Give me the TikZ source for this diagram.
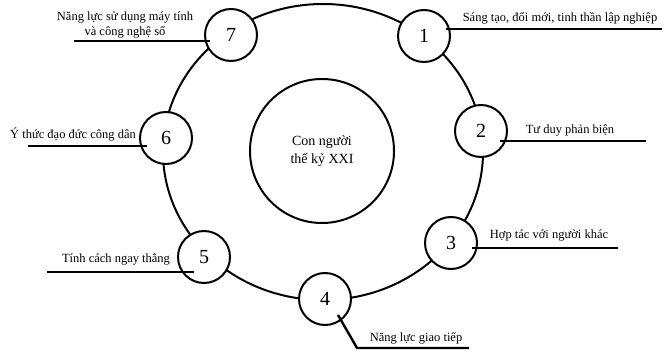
\documentclass[tikz,border=0pt]{standalone}
\usepackage{fontspec}
\setmainfont{Liberation Serif}
\usepackage{tikz}
\usetikzlibrary{positioning}
\tikzset{
  % Numbered bubbles sitting on the ring
  bubble/.style={
    draw, circle, fill=white, minimum size=52pt, inner sep=0pt,
    line width=2pt, font=\fontsize{20}{22}\selectfont,
  },
  % Central circle
  core/.style={
    draw, circle, minimum size=144pt, inner sep=0pt,
    line width=2pt, align=center,
    font=\fontsize{14}{18}\selectfont,
  },
  % Lines
  ring/.style={line width=2pt},
  lead/.style={line width=2.4pt},
  % Labels
  lbl/.style={font=\fontsize{12.5}{15}\selectfont, inner sep=0pt, align=center},
}
\begin{document}
\begin{tikzpicture}[x=1pt, y=-1pt]
    \useasboundingbox (0,0) rectangle (671,355);
    \node[core] (hub) at (322,151) {Con người\\thế kỷ XXI};
    \draw[ring] (323,152) ellipse [x radius=160pt, y radius=148pt];
    % bubbles
    \node[bubble] (c1) at (424,36) {1};
    \node[bubble] (c2) at (481,131) {2};
    \node[bubble] (c3) at (451,243) {3};
    \node[bubble] (c4) at (325,299) {4};
    \node[bubble] (c5) at (204,257) {5};
    \node[bubble] (c6) at (166,138) {6};
    \node[bubble] (c7) at (231,35) {7};
    % free ends of the leaders
    \coordinate (e1) at (662,29);
    \coordinate (e2) at (646,141);
    \coordinate (e3) at (618,248);
    \coordinate (k4) at (357,348);
    \coordinate (e4) at (469,348);
    \coordinate (e5) at (47,272);
    \coordinate (e6) at (28,146);
    \coordinate (e7) at (74,41);
    \draw[lead] ([shift={(22,-7)}]c1.center) -- (e1);
    \draw[lead] ([shift={(19,10)}]c2.center) -- (e2);
    \draw[lead] ([shift={(21,5)}]c3.center) -- (e3);
    \draw[lead] ([shift={(13,16)}]c4.center) -- (k4) -- (e4);
    \draw[lead] ([shift={(-10,15)}]c5.center) -- (e5);
    \draw[lead] ([shift={(-19,8)}]c6.center) -- (e6);
    \draw[lead] ([shift={(-21,6)}]c7.center) -- (e7);
    % labels
    \node[lbl] (t1) at (560,18) {Sáng tạo, đổi mới, tinh thần lập nghiệp};
    \node[lbl] (t2) at (570,131) {Tư duy phản biện};
    \node[lbl] (t3) at (549,236) {Hợp tác với người khác};
    \node[lbl] (t4) at (416,338) {Năng lực giao tiếp};
    \node[lbl] (t5) at (116,259) {Tính cách ngay thẳng};
    \node[lbl] (t6) at (73,134) {Ý thức đạo đức công dân};
    \node[lbl] (t7) at (125,25) {Năng lực sử dụng máy tính\\và công nghệ số};
\end{tikzpicture}
\end{document}
